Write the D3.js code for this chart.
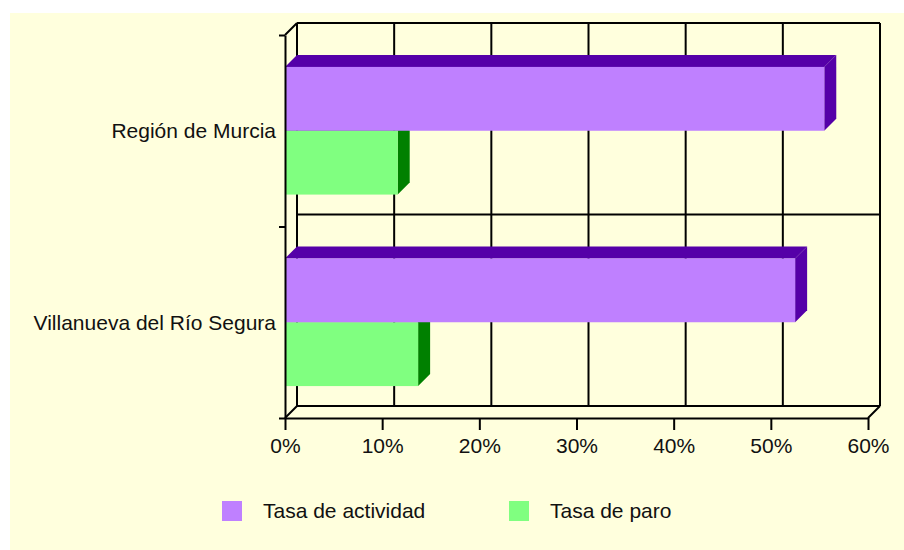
<!DOCTYPE html>
<html>
<head>
<meta charset="utf-8">
<script src="https://cdn.jsdelivr.net/npm/d3@7"></script>
<style>
  body { margin: 0; background: #fff; }
  text { font-family: "Liberation Sans", Arial, sans-serif; fill: #111; }
</style>
</head>
<body>
<div id="chart"></div>
<script>
// data
const categories = ["Región de Murcia", "Villanueva del Río Segura"];
const seriesNames = ["Tasa de actividad", "Tasa de paro"];
const actividad = [55.5, 52.5];
const paro = [11.6, 13.7];
const xTicks = [0, 10, 20, 30, 40, 50, 60];

const width = 904;
const height = 550;
const fontSize = "21px";
const depth = { dx: 12, dy: -12 };
const plot = { left: 285, right: 868, top: 35, bottom: 418 };
const faces = {
  "Tasa de actividad": { front: "#bf80ff", top: "#5500a8", side: "#5500a8" },
  "Tasa de paro": { front: "#80ff80", top: "#008000", side: "#008000" }
};

const svg = d3.select("#chart")
  .append("svg")
  .attr("width", width)
  .attr("height", height);

// yellowish background
svg.append("rect")
  .attr("x", 10).attr("y", 13)
  .attr("width", width - 10).attr("height", height - 13)
  .attr("fill", "#ffffdd");

const x = d3.scaleLinear().domain([0, 60]).range([plot.left, plot.right]);
const y = d3.scaleBand().domain(categories).range([plot.top, plot.bottom]);
const ySub = d3.scaleBand().domain(seriesNames).range([0, y.bandwidth()]).paddingOuter(0.5);

// back wall
const back = svg.append("g").attr("transform", `translate(${depth.dx},${depth.dy})`);
back.selectAll(".vgrid")
  .data(xTicks)
  .enter()
  .append("line")
  .attr("x1", d => x(d)).attr("x2", d => x(d))
  .attr("y1", plot.top).attr("y2", plot.bottom)
  .attr("stroke", "#000").attr("stroke-width", 2);
back.selectAll(".hgrid")
  .data([plot.top, y(categories[1]), plot.bottom])
  .enter()
  .append("line")
  .attr("x1", plot.left).attr("x2", plot.right)
  .attr("y1", d => d).attr("y2", d => d)
  .attr("stroke", "#000").attr("stroke-width", 2);

// floor & wall edges
const edges = [
  [plot.left, plot.bottom],
  [plot.right, plot.bottom],
  [plot.left, plot.top]
];
svg.selectAll(".edge")
  .data(edges)
  .enter()
  .append("line")
  .attr("x1", d => d[0]).attr("y1", d => d[1])
  .attr("x2", d => d[0] + depth.dx).attr("y2", d => d[1] + depth.dy)
  .attr("stroke", "#000").attr("stroke-width", 2);

// bars (green first so purple front covers the green top face)
const barData = [];
categories.forEach((c, i) => {
  barData.push({ cat: c, series: "Tasa de paro", value: paro[i] });
  barData.push({ cat: c, series: "Tasa de actividad", value: actividad[i] });
});

const bars = svg.selectAll(".bar")
  .data(barData)
  .enter()
  .append("g")
  .attr("class", "bar");

bars.each(function(d) {
  const g = d3.select(this);
  const x0 = x(0), x1 = x(d.value);
  const y0 = y(d.cat) + ySub(d.series);
  const y1 = y0 + ySub.bandwidth();
  const dx = depth.dx, dy = depth.dy;
  const col = faces[d.series];
  g.append("path")
    .attr("d", `M${x0},${y0}L${x0 + dx},${y0 + dy}L${x1 + dx},${y0 + dy}L${x1},${y0}Z`)
    .attr("fill", col.top);
  g.append("path")
    .attr("d", `M${x1},${y0}L${x1 + dx},${y0 + dy}L${x1 + dx},${y1 + dy}L${x1},${y1}Z`)
    .attr("fill", col.side);
  g.append("rect")
    .attr("x", x0).attr("y", y0)
    .attr("width", x1 - x0).attr("height", y1 - y0)
    .attr("fill", col.front);
});

// x axis
const xAxis = d3.axisBottom(x)
  .tickValues(xTicks)
  .tickFormat(d => d + "%")
  .tickSize(12)
  .tickSizeOuter(0);
const xg = svg.append("g")
  .attr("transform", `translate(0,${plot.bottom})`)
  .call(xAxis);
xg.select(".domain").attr("stroke", "#000").attr("stroke-width", 2);
xg.selectAll(".tick line").attr("stroke", "#000").attr("stroke-width", 2);
xg.selectAll(".tick text")
  .attr("y", 20)
  .style("font-size", fontSize)
  .style("font-family", "'Liberation Sans', Arial, sans-serif")
  .attr("fill", "#111");

// y axis (ticks at category boundaries)
const yEdge = d3.scaleLinear().domain([0, categories.length]).range([plot.bottom, plot.top]);
const yAxis = d3.axisLeft(yEdge)
  .ticks(categories.length)
  .tickFormat("")
  .tickSize(6)
  .tickSizeOuter(0);
const yg = svg.append("g")
  .attr("transform", `translate(${plot.left},0)`)
  .call(yAxis);
yg.select(".domain").attr("stroke", "#000").attr("stroke-width", 2);
yg.selectAll(".tick line").attr("stroke", "#000").attr("stroke-width", 2);

// category labels
svg.selectAll(".cat-label")
  .data(categories)
  .enter()
  .append("text")
  .attr("x", 276)
  .attr("y", d => y(d) + y.bandwidth() / 2)
  .attr("dy", "0.35em")
  .attr("text-anchor", "end")
  .style("font-size", fontSize)
  .text(d => d);

// legend
const legendX = [222, 509];
const legend = svg.selectAll(".legend")
  .data(seriesNames)
  .enter()
  .append("g")
  .attr("transform", (d, i) => `translate(${legendX[i]},501)`);
legend.append("rect")
  .attr("width", 20).attr("height", 20)
  .attr("fill", d => faces[d].front);
legend.append("text")
  .attr("x", 41).attr("y", 10)
  .attr("dy", "0.35em")
  .style("font-size", fontSize)
  .text(d => d);
</script>
</body>
</html>
